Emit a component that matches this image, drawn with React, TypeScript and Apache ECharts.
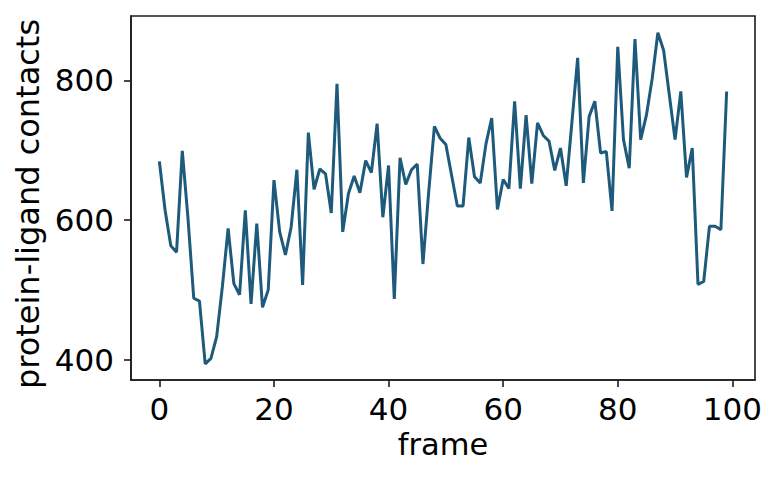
import React, { useEffect, useRef } from "react";
import * as echarts from "echarts";

const contacts: number[] = [
  684, 614, 563, 554, 699, 602, 488, 484, 394, 402,
  433, 505, 588, 509, 493, 614, 480, 595, 475, 500,
  657, 583, 550, 590, 672, 507, 725, 644, 673, 666,
  610, 795, 583, 638, 663, 639, 685, 668, 738, 604,
  678, 487, 689, 651, 672, 680, 537, 640, 734, 717,
  708, 664, 620, 620, 718, 662, 653, 709, 746, 615,
  658, 645, 770, 645, 750, 652, 739, 721, 713, 671,
  703, 649, 740, 832, 653, 748, 770, 696, 698, 613,
  848, 715, 674, 859, 715, 750, 802, 868, 843, 779,
  715, 784, 661, 703, 508, 512, 591, 591, 586, 784,
];
const frames: number[] = contacts.map((_, i) => i);
const xTicks: number[] = [0, 20, 40, 60, 80, 100];
const yTicks: number[] = [400, 600, 800];

const FONT = "DejaVu Sans";
const INK = "#1c1c1c";

export default function App() {
  const ref = useRef<HTMLDivElement>(null);
  useEffect(() => {
    if (!ref.current) return;
    const chart = echarts.init(ref.current, undefined, { renderer: "svg" });
    chart.setOption({
      animation: false,
      backgroundColor: "#ffffff",
      grid: {
        left: 131,
        top: 16,
        right: 22,
        bottom: 103,
        show: true,
        borderColor: INK,
        borderWidth: 1.6,
        backgroundColor: "transparent",
      },
      xAxis: {
        type: "value",
        min: -4.95,
        max: 103.95,
        name: "frame",
        nameLocation: "middle",
        nameGap: 49,
        nameTextStyle: { fontFamily: FONT, fontSize: 30.5, color: "#000" },
        splitLine: { show: false },
        axisLine: { show: true, onZero: false, lineStyle: { color: INK, width: 1.6 } },
        axisTick: { show: true, length: 7, lineStyle: { color: INK, width: 1.6 }, customValues: xTicks },
        axisLabel: { fontFamily: FONT, fontSize: 31, color: "#000", margin: 13, customValues: xTicks },
      },
      yAxis: {
        type: "value",
        min: 371,
        max: 892,
        name: "protein-ligand contacts",
        nameLocation: "middle",
        nameGap: 86,
        nameRotate: 90,
        nameTextStyle: { fontFamily: FONT, fontSize: 32, color: "#000", padding: [0, 12, 0, 0] },
        splitLine: { show: false },
        axisLine: { show: true, onZero: false, lineStyle: { color: INK, width: 1.6 } },
        axisTick: { show: true, length: 7, lineStyle: { color: INK, width: 1.6 }, customValues: yTicks },
        axisLabel: { fontFamily: FONT, fontSize: 31, color: "#000", margin: 17, customValues: yTicks },
      },
      series: [
        {
          type: "line",
          data: frames.map((f, i) => [f, contacts[i]]),
          showSymbol: false,
          symbol: "none",
          lineStyle: { color: "#1e5a7b", width: 3 },
          itemStyle: { color: "#1e5a7b" },
        },
      ],
    });
    return () => chart.dispose();
  }, []);
  return (
    <div
      ref={ref}
      style={{ position: "fixed", left: 0, top: 0, width: 777, height: 483, background: "#fff" }}
    />
  );
}
